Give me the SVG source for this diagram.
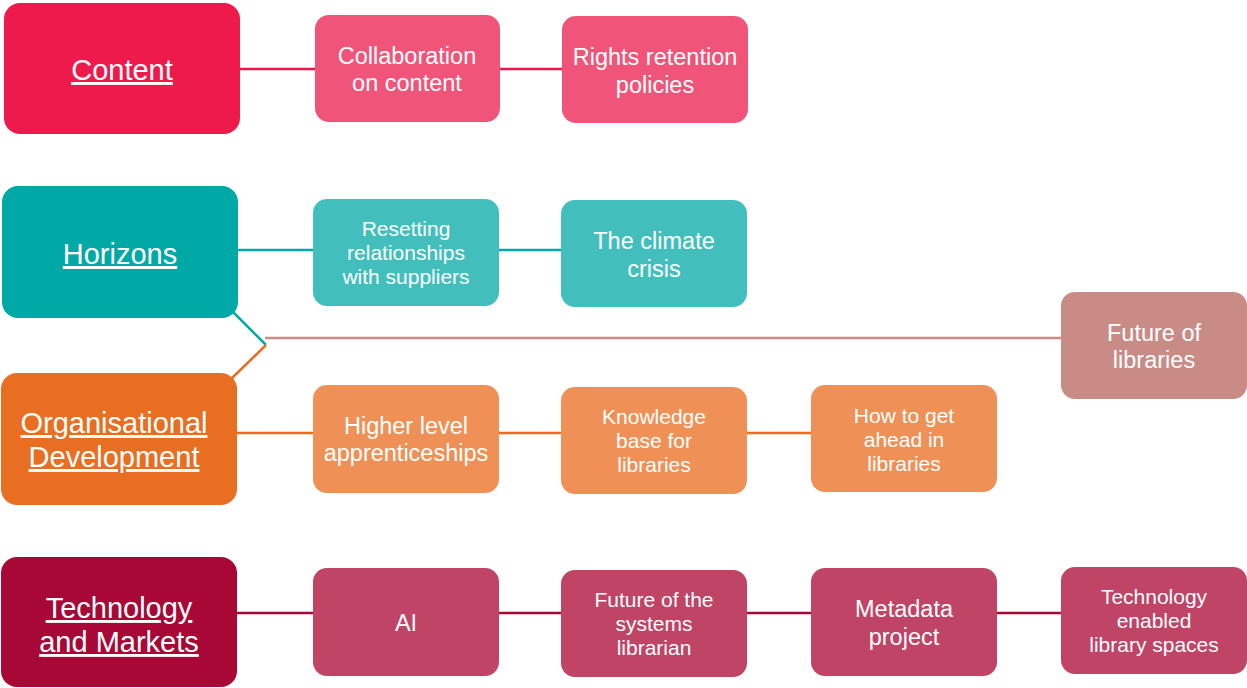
<svg xmlns="http://www.w3.org/2000/svg" width="1247" height="688" viewBox="0 0 1247 688">
<style>
text{font-family:"Liberation Sans",Arial,sans-serif;fill:#fff;text-anchor:middle}
.m{font-size:29px;text-decoration:underline}
.s{font-size:23.5px}
.t{font-size:21px}
.ln{stroke-width:2.5;fill:none}
</style>
<rect width="1247" height="688" fill="#fff"/>
<g id="connectors">
<path class="ln" stroke="#E8194A" d="M240 69H315M500 69H562"/>
<path class="ln" stroke="#00A9A5" d="M238 250H313M499 250H561M232 311L266 345"/>
<path class="ln" stroke="#E86E22" d="M237 433H313M499 433H561M747 433H811M266 345L231 379"/>
<path class="ln" stroke="#A80835" d="M237 613H313M499 613H561M747 613H811M997 613H1061"/>
<path class="ln" stroke="#C98B86" d="M265 338H1062"/>
</g>
<g id="content"><rect x="4" y="3" width="236" height="131" rx="16" fill="#EF1A4C"/><text class="m" x="122" y="80">Content</text></g>
<g id="collab"><rect x="315" y="15" width="185" height="107" rx="14" fill="#F05478"/><text class="s" x="407" y="64">Collaboration</text><text class="s" x="407" y="91">on content</text></g>
<g id="rights"><rect x="562" y="16" width="186" height="107" rx="14" fill="#F05478"/><text class="s" x="655" y="65">Rights retention</text><text class="s" x="655" y="93">policies</text></g>
<g id="horizons"><rect x="2" y="186" width="236" height="132" rx="16" fill="#00A9A5"/><text class="m" x="120" y="264">Horizons</text></g>
<g id="resetting"><rect x="313" y="199" width="186" height="107" rx="14" fill="#42BFBD"/><text class="t" x="406" y="236">Resetting</text><text class="t" x="406" y="260">relationships</text><text class="t" x="406" y="284">with suppliers</text></g>
<g id="climate"><rect x="561" y="200" width="186" height="107" rx="14" fill="#42BFBD"/><text class="s" x="654" y="249">The climate</text><text class="s" x="654" y="277">crisis</text></g>
<g id="future"><rect x="1061" y="292" width="186" height="107" rx="14" fill="#C98B86"/><text class="s" x="1154" y="341">Future of</text><text class="s" x="1154" y="368">libraries</text></g>
<g id="org"><rect x="1" y="373" width="236" height="132" rx="16" fill="#E86E22"/><text class="m" x="114" y="433">Organisational</text><text class="m" x="114" y="467">Development</text></g>
<g id="higher"><rect x="313" y="385" width="186" height="108" rx="14" fill="#EF9156"/><text class="s" x="406" y="434">Higher level</text><text class="s" x="406" y="461">apprenticeships</text></g>
<g id="knowledge"><rect x="561" y="387" width="186" height="107" rx="14" fill="#EF9156"/><text class="t" x="654" y="424">Knowledge</text><text class="t" x="654" y="448">base for</text><text class="t" x="654" y="472">libraries</text></g>
<g id="ahead"><rect x="811" y="385" width="186" height="107" rx="14" fill="#EF9156"/><text class="t" x="904" y="423">How to get</text><text class="t" x="904" y="447">ahead in</text><text class="t" x="904" y="471">libraries</text></g>
<g id="tech"><rect x="1" y="557" width="236" height="130" rx="16" fill="#A80835"/><text class="m" x="119" y="618">Technology</text><text class="m" x="119" y="652">and Markets</text></g>
<g id="ai"><rect x="313" y="568" width="186" height="108" rx="14" fill="#C04466"/><text class="s" x="406" y="631">AI</text></g>
<g id="systems"><rect x="561" y="570" width="186" height="107" rx="14" fill="#C04466"/><text class="t" x="654" y="607">Future of the</text><text class="t" x="654" y="631">systems</text><text class="t" x="654" y="655">librarian</text></g>
<g id="metadata"><rect x="811" y="568" width="186" height="108" rx="14" fill="#C04466"/><text class="s" x="904" y="617">Metadata</text><text class="s" x="904" y="645">project</text></g>
<g id="spaces"><rect x="1061" y="567" width="186" height="107" rx="14" fill="#C04466"/><text class="t" x="1154" y="604">Technology</text><text class="t" x="1154" y="628">enabled</text><text class="t" x="1154" y="652">library spaces</text></g>
</svg>
